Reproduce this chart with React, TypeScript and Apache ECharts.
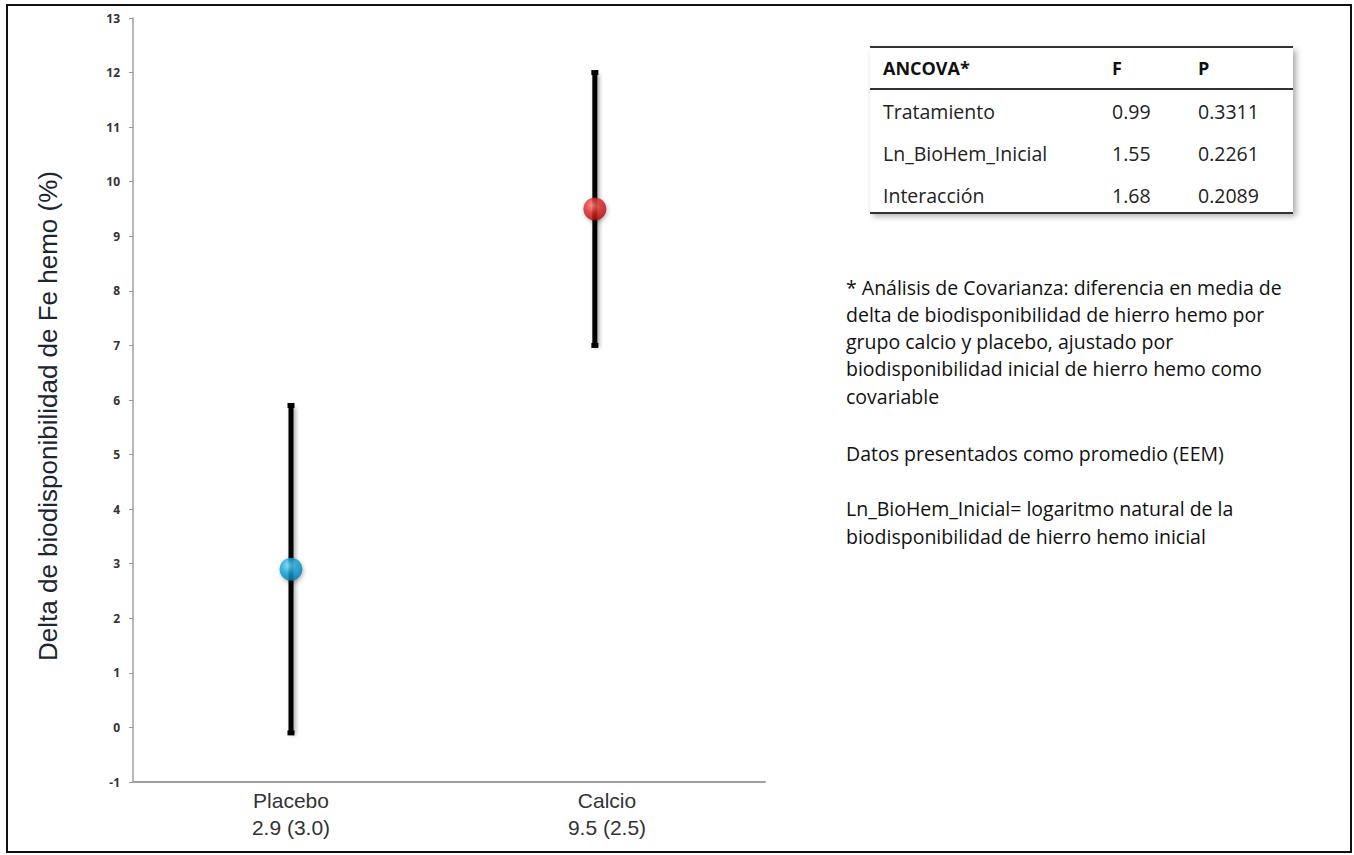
import React, { useEffect, useRef } from "react";
import * as echarts from "echarts";

const groups = ["Placebo", "Calcio"];
const groupLabels = ["2.9 (3.0)", "9.5 (2.5)"];
const groupX = [1, 2];
const means = [2.9, 9.5];
const lows = [-0.1, 7.0];
const highs = [5.9, 12.0];
const pointColors = [
  ["#7fe0ff", "#12a6de", "#0b78a8"],
  ["#ff8a80", "#e02a2a", "#a80e0e"],
];

const yTitle = "Delta de biodisponibilidad de Fe hemo (%)";
const tableHeader = ["ANCOVA*", "F", "P"];
const tableRows = [
  ["Tratamiento", "0.99", "0.3311"],
  ["Ln_BioHem_Inicial", "1.55", "0.2261"],
  ["Interacción", "1.68", "0.2089"],
];
const noteLines = [
  "* Análisis de Covarianza: diferencia en media de",
  "delta de biodisponibilidad de hierro hemo por",
  "grupo calcio y placebo, ajustado por",
  "biodisponibilidad inicial de hierro hemo como",
  "covariable",
];
const note2 = "Datos presentados como promedio (EEM)";
const note3Lines = [
  "Ln_BioHem_Inicial= logaritmo natural de la",
  "biodisponibilidad de hierro hemo inicial",
];

export default function App() {
  const ref = useRef<HTMLDivElement>(null);
  useEffect(() => {
    document.body.style.margin = "0";
    const chart = echarts.init(ref.current!, null, { renderer: "svg" });
    const tFont = "'Open Sans', sans-serif";
    const graphics: any[] = [];
    graphics.push({
      type: "rect",
      shape: { x: 7, y: 5, width: 1344, height: 847 },
      style: { fill: "none", stroke: "#111", lineWidth: 2 },
      silent: true,
    });
    graphics.push({
      type: "text",
      x: 48,
      y: 416,
      rotation: Math.PI / 2,
      style: {
        text: yTitle,
        font: "26px 'Liberation Sans', Arial, sans-serif",
        fill: "#1b2633",
        align: "center",
        verticalAlign: "middle",
      },
    });
    graphics.push({
      type: "rect",
      shape: { x: 870, y: 47, width: 423, height: 166 },
      style: {
        fill: "#fff",
        shadowBlur: 6,
        shadowOffsetX: 3,
        shadowOffsetY: 3,
        shadowColor: "rgba(0,0,0,0.35)",
      },
    });
    [47, 89, 213].forEach((y) =>
      graphics.push({
        type: "line",
        shape: { x1: 870, y1: y, x2: 1293, y2: y },
        style: { stroke: "#333", lineWidth: 2 },
      })
    );
    const colX = [883, 1112, 1198];
    tableHeader.forEach((t, i) =>
      graphics.push({
        type: "text",
        x: colX[i],
        y: 68,
        style: { text: t, font: `bold 18px ${tFont}`, fill: "#111", verticalAlign: "middle" },
      })
    );
    const rowY = [111, 153, 195];
    tableRows.forEach((row, r) =>
      row.forEach((t, i) =>
        graphics.push({
          type: "text",
          x: colX[i],
          y: rowY[r],
          style: { text: t, font: `19.5px ${tFont}`, fill: "#222", verticalAlign: "middle" },
        })
      )
    );
    const noteY = [287, 314, 341, 368, 396];
    noteLines.forEach((t, i) =>
      graphics.push({
        type: "text",
        x: 846,
        y: noteY[i],
        style: { text: t, font: `19.5px ${tFont}`, fill: "#111", verticalAlign: "middle" },
      })
    );
    graphics.push({
      type: "text",
      x: 846,
      y: 453,
      style: { text: note2, font: `19.5px ${tFont}`, fill: "#111", verticalAlign: "middle" },
    });
    [508, 536].forEach((y, i) =>
      graphics.push({
        type: "text",
        x: 846,
        y,
        style: { text: note3Lines[i], font: `19.5px ${tFont}`, fill: "#111", verticalAlign: "middle" },
      })
    );

    chart.setOption({
      animation: false,
      backgroundColor: "#fff",
      grid: { left: 133, right: 589, top: 18, bottom: 73 },
      xAxis: [
        {
          type: "category",
          data: groups.map((g, i) => `${g}\n${groupLabels[i]}`),
          boundaryGap: true,
          axisTick: { show: false },
          splitLine: { show: false },
          axisLine: { show: true, onZero: false, lineStyle: { color: "#a0a0a0", width: 2 } },
          axisLabel: {
            fontFamily: "'Liberation Sans', Arial, sans-serif",
            fontSize: 21,
            lineHeight: 27,
            color: "#333",
            margin: 5,
          },
        },
        {
          type: "value",
          min: 0.48,
          max: 2.56,
          show: false,
          splitLine: { show: false },
        },
      ],
      yAxis: {
        type: "value",
        min: -1,
        max: 13,
        interval: 1,
        splitLine: { show: false },
        axisLine: { show: true, lineStyle: { color: "#a0a0a0", width: 1.5 } },
        axisTick: { show: true, length: 4, lineStyle: { color: "#999" } },
        axisLabel: {
          fontSize: 12,
          fontWeight: "bold",
          color: "#333",
          margin: 13,
          fontFamily: "'Open Sans', sans-serif",
        },
      },
      graphic: graphics,
      series: [
        {
          type: "custom",
          xAxisIndex: 1,
          data: groupX.map((x, i) => [x, lows[i], highs[i]]),
          renderItem: (params: any, api: any) => {
            const x = api.value(0);
            const lo = api.coord([x, api.value(1)]);
            const hi = api.coord([x, api.value(2)]);
            return {
              type: "group",
              children: [
                {
                  type: "rect",
                  shape: { x: lo[0] - 2.5, y: hi[1], width: 5, height: lo[1] - hi[1] },
                  style: {
                    fill: "#000",
                    shadowBlur: 4,
                    shadowOffsetX: 2,
                    shadowOffsetY: 2,
                    shadowColor: "rgba(0,0,0,0.35)",
                  },
                },
                {
                  type: "rect",
                  shape: { x: lo[0] - 3.5, y: lo[1] - 2.5, width: 7, height: 5 },
                  style: { fill: "#000" },
                },
                {
                  type: "rect",
                  shape: { x: hi[0] - 3.5, y: hi[1] - 2.5, width: 7, height: 5 },
                  style: { fill: "#000" },
                },
              ],
            };
          },
          z: 2,
        },
        {
          type: "scatter",
          xAxisIndex: 1,
          symbol: "circle",
          symbolSize: 23,
          z: 3,
          data: groupX.map((x, i) => ({
            value: [x, means[i]],
            itemStyle: {
              color: new echarts.graphic.RadialGradient(0.4, 0.35, 0.65, [
                { offset: 0, color: pointColors[i][0] },
                { offset: 0.5, color: pointColors[i][1] },
                { offset: 1, color: pointColors[i][2] },
              ]),
              shadowBlur: 4,
              shadowOffsetX: 1,
              shadowOffsetY: 2,
              shadowColor: "rgba(0,0,0,0.35)",
            },
          })),
        },
      ],
    });
    return () => chart.dispose();
  }, []);
  return <div ref={ref} style={{ width: 1354, height: 855 }} />;
}
